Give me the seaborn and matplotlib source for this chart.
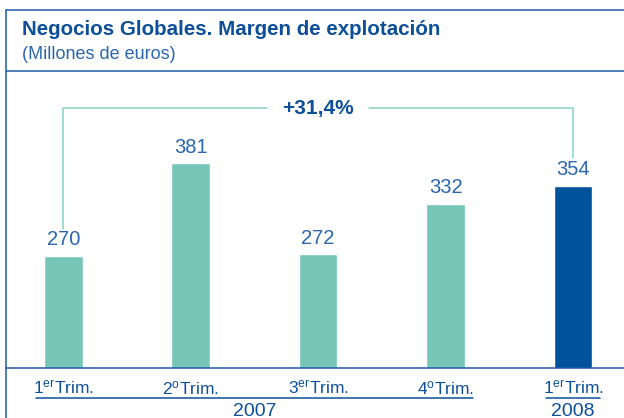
import matplotlib
matplotlib.use("Agg")
import matplotlib.pyplot as plt
import matplotlib.transforms as mtransforms
from matplotlib.lines import Line2D
import seaborn as sns
import pandas as pd

# ---- data ----
periods = ["1T07", "2T07", "3T07", "4T07", "1T08"]
tick_labels = [r"1$^{\mathrm{er}}$Trim.", r"2$^{\mathrm{o}}$Trim.", r"3$^{\mathrm{er}}$Trim.",
               r"4$^{\mathrm{o}}$Trim.", r"1$^{\mathrm{er}}$Trim."]
values = [270, 381, 272, 332, 354]
years = ["2007", "2008"]
year_first = [0, 4]
year_last = [3, 4]
growth_label = "+31,4%"
title = "Negocios Globales. Margen de explotación"
subtitle = "(Millones de euros)"

# ---- style ----
sns.set_style("white")
FONT = ["Liberation Sans", "DejaVu Sans"]
plt.rcParams["font.family"] = FONT
plt.rcParams["mathtext.fontset"] = "custom"
plt.rcParams["mathtext.rm"] = "Liberation Sans"
plt.rcParams["mathtext.default"] = "regular"

TEAL = "#76c6b8"
NAVY = "#00529b"
TEXT_BLUE = "#2a66ae"
DARK_BLUE = "#0d4f98"
FRAME = "#1f5ca6"
BRACKET = "#86d3c5"

W, H = 624, 418
fig = plt.figure(figsize=(W / 100, H / 100), dpi=100)

ax_left, ax_right, ax_top, ax_bottom = 5.7, 624, 70, 368
ax = fig.add_axes([ax_left / W, (H - ax_bottom) / H, (ax_right - ax_left) / W, (ax_bottom - ax_top) / H])

df = pd.DataFrame({"period": periods, "value": values})
palette = {p: (NAVY if i == len(periods) - 1 else TEAL) for i, p in enumerate(periods)}
sns.barplot(data=df, x="period", y="value", hue="period", palette=palette,
            width=0.302, legend=False, ax=ax, saturation=1)

ax.set_xlim(-0.452, 4.40)
ax.set_ylim(136, 493)
ax.set_xlabel("")
ax.set_ylabel("")
ax.set_yticks([])
ax.set_xticks(range(len(periods)))
ax.set_xticklabels(tick_labels, fontsize=12.5, color=DARK_BLUE)
ax.tick_params(axis="x", length=0, pad=8)
for s in ["top", "right", "left"]:
    ax.spines[s].set_visible(False)
ax.spines["bottom"].set_color(FRAME)
ax.spines["bottom"].set_linewidth(1.1)

for cont in ax.containers:
    ax.bar_label(cont, fmt="%d", padding=5, fontsize=14.5, color=TEXT_BLUE)

# growth bracket
top_y = 447
gap = 33
ax.plot([0, 0, 1.6], [values[0] + gap, top_y, top_y], color=BRACKET, lw=1.1, clip_on=False)
ax.plot([2.4, 4, 4], [top_y, top_y, values[-1] + gap], color=BRACKET, lw=1.1, clip_on=False)
ax.text(2, top_y, growth_label, ha="center", va="center", fontsize=15,
        fontweight="bold", color=DARK_BLUE)

# year underlines and labels
trans = mtransforms.blended_transform_factory(ax.transData, ax.transAxes)
ext = 0.215
y_line = -(397.7 - ax_bottom) / (ax_bottom - ax_top)
y_year = -(415.5 - ax_bottom) / (ax_bottom - ax_top)
for yr, a, b in zip(years, year_first, year_last):
    ax.plot([a - ext, b + ext], [y_line, y_line], color=DARK_BLUE, lw=1.1,
            transform=trans, clip_on=False)
    ax.text((a + b) / 2, y_year, yr, ha="center", va="baseline", fontsize=14,
            color=DARK_BLUE, transform=trans, clip_on=False)

# frame and title
def fx(px):
    return px / W

def fy(py):
    return 1 - py / H

fig.add_artist(Line2D([fx(5.7), fx(5.7)], [fy(10), fy(418)], color=FRAME, lw=1.1, transform=fig.transFigure))
fig.add_artist(Line2D([fx(5.7), 1], [fy(10), fy(10)], color=FRAME, lw=1.1, transform=fig.transFigure))
fig.add_artist(Line2D([fx(5.7), 1], [fy(70.7), fy(70.7)], color=FRAME, lw=1.1, transform=fig.transFigure))

fig.text(fx(22), fy(35), title, fontsize=14.8, fontweight="bold", color=DARK_BLUE, va="baseline")
fig.text(fx(22), fy(59), subtitle, fontsize=13, color=TEXT_BLUE, va="baseline")

fig.savefig("out.png", dpi=100)
